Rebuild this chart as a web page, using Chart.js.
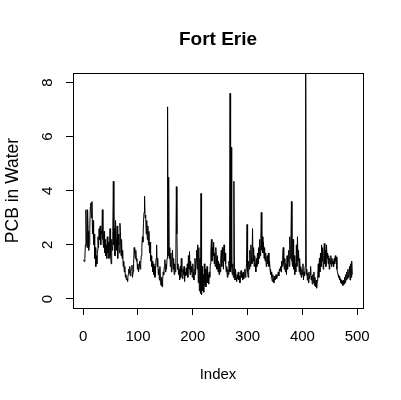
<!DOCTYPE html>
<html><head><meta charset="utf-8">
<script src="https://cdn.jsdelivr.net/npm/chart.js@4/dist/chart.umd.min.js"></script>
<style>html,body{margin:0;padding:0;background:#fff;overflow:hidden}canvas{display:block}</style>
</head><body>
<canvas id="c" width="401" height="400"></canvas>
<script>
const titleText = "Fort Erie";
const xLabel = "Index";
const yLabel = "PCB in Water";
const xTicks = [0, 100, 200, 300, 400, 500];
const yTicks = [0, 2, 4, 6, 8];
const pcb = [
1.45,1.38,1.5,2.0,3.3,2.1,1.9,3.3,2.5,1.8,
2.0,2.6,3.4,3.55,3.0,3.6,2.4,2.9,2.0,2.4,
1.5,1.9,1.2,1.6,1.3,1.8,2.3,1.9,2.6,2.2,
2.7,2.0,2.5,2.4,3.3,2.2,1.9,2.5,1.7,2.2,
1.6,2.0,1.5,2.3,1.7,2.1,1.5,1.9,2.6,1.6,
1.3,2.2,1.8,2.5,4.35,2.0,2.6,1.6,2.9,2.2,
1.8,2.7,1.5,2.4,2.0,1.7,2.8,2.5,1.6,2.2,
1.5,1.8,1.2,1.4,1.0,1.2,0.8,0.9,0.7,0.75,
0.65,0.9,1.1,0.95,1.2,0.85,1.05,1.1,1.25,0.8,
1.0,1.3,1.9,1.7,1.5,1.8,1.4,1.5,1.1,1.3,
1.0,1.2,1.4,1.1,1.3,1.6,1.9,2.3,2.1,2.8,
3.2,3.8,3.0,3.1,2.4,2.9,2.2,2.7,2.0,2.5,
1.7,2.1,1.4,1.6,1.2,1.4,1.0,1.3,0.9,1.2,
0.8,1.1,1.5,2.0,1.2,1.5,0.9,1.1,0.7,1.2,
0.6,0.5,0.8,0.45,0.7,1.0,0.9,1.2,1.45,1.0,
1.3,1.1,1.5,7.1,1.6,4.5,1.5,1.9,1.2,1.7,
1.0,1.4,1.8,1.1,1.5,0.9,1.3,1.0,1.2,4.15,
2.4,1.1,1.3,0.9,1.1,0.7,1.2,0.8,1.5,1.0,
0.75,1.1,0.9,1.2,0.65,1.0,0.85,1.15,0.9,1.3,
0.8,1.6,1.1,1.75,0.9,1.4,1.0,1.2,0.8,1.3,
1.0,0.7,1.1,1.5,0.9,1.4,1.8,1.1,2.0,0.6,
1.9,0.3,1.5,0.2,3.9,0.15,1.2,0.3,0.9,0.25,
1.3,0.5,1.1,0.45,0.8,1.2,0.6,0.9,0.55,1.0,
0.8,1.3,1.8,2.2,1.4,1.9,1.6,2.1,1.3,1.7,
1.2,1.9,1.5,1.1,1.6,1.0,1.4,0.9,1.3,1.0,
1.5,1.8,1.2,1.9,1.6,1.1,2.0,1.4,1.7,1.3,
1.0,1.2,0.8,1.1,0.9,1.4,1.0,7.6,1.0,5.6,
1.2,0.9,1.3,0.8,4.35,1.0,0.7,1.1,0.8,0.65,
0.9,0.75,1.0,0.7,0.85,0.6,0.9,1.05,0.8,0.95,
0.7,1.0,0.75,0.9,1.1,0.8,0.95,1.3,2.75,1.0,
0.8,1.4,1.1,1.8,1.2,2.0,1.5,1.3,2.6,1.4,
1.9,1.2,1.6,1.3,1.0,1.5,1.2,1.7,1.3,1.9,
1.5,2.2,1.6,2.0,3.2,1.8,2.3,1.7,2.1,1.5,
1.9,1.4,1.7,1.2,1.5,1.6,1.3,1.7,1.2,1.4,
1.1,0.9,1.0,0.8,0.65,0.9,0.75,0.6,0.85,0.7,
0.8,0.9,0.75,0.85,0.9,1.0,0.85,1.1,1.05,1.2,
1.0,1.4,1.2,1.6,1.9,1.3,1.1,1.5,1.0,1.3,
0.9,1.6,1.1,1.4,1.8,1.2,2.3,1.5,2.0,3.6,
1.4,1.2,2.2,1.1,1.6,0.9,1.3,1.0,2.0,1.2,
2.3,1.4,1.8,1.0,1.5,0.9,1.2,0.8,1.1,0.9,
1.3,0.7,1.0,0.85,1.2,9.0,0.9,1.1,0.7,0.95,
0.6,1.0,0.75,0.9,1.2,0.7,0.85,0.55,0.9,0.6,
1.0,0.5,0.8,0.45,0.7,0.4,0.65,0.9,1.3,0.8,
1.5,1.0,1.7,1.2,2.0,1.4,1.9,1.1,1.6,2.05,
1.3,1.8,1.2,2.0,1.5,1.7,1.3,1.6,1.1,1.5,
1.3,1.6,1.2,1.5,1.3,1.4,1.2,1.5,1.3,1.6,
1.4,1.55,1.1,1.0,0.9,0.8,0.85,0.7,0.75,0.6,
0.7,0.55,0.65,0.5,0.7,0.55,0.8,0.6,0.9,0.7,
1.0,0.75,1.1,0.8,0.9,1.2,0.7,1.3,0.8,1.4,
0.9
];
const index = pcb.map((_, i) => i + 1);

const FONT = "'Liberation Sans', Arial, Helvetica, sans-serif";

const boxPlugin = {
  id: 'box',
  afterDraw(chart) {
    const {ctx, chartArea: a} = chart;
    const l = Math.round(a.left), t = Math.round(a.top), r = Math.round(a.right), b = Math.round(a.bottom);
    ctx.save();
    ctx.strokeStyle = '#000';
    ctx.lineWidth = 1;
    ctx.strokeRect(l + 0.5, t + 0.5, r - l, b - t);
    ctx.restore();
  }
};

new Chart(document.getElementById('c'), {
  type: 'line',
  data: {
    labels: index,
    datasets: [{
      data: index.map((x, i) => ({x: x, y: pcb[i]})),
      borderColor: '#000',
      borderWidth: 1,
      pointRadius: 0,
      tension: 0,
      fill: false
    }]
  },
  options: {
    responsive: false,
    animation: false,
    devicePixelRatio: 1,
    layout: {padding: {left: 0, right: 38, top: 0, bottom: 0}},
    plugins: {
      legend: {display: false},
      tooltip: {enabled: false},
      title: {
        display: true,
        text: titleText,
        fullSize: false,
        color: '#000',
        font: {family: FONT, size: 19, weight: 'bold'},
        padding: {top: 28.6, bottom: 21.6}
      }
    },
    scales: {
      x: {
        type: 'linear',
        min: -18.6,
        max: 510.6,
        afterBuildTicks: s => { s.ticks = xTicks.map(v => ({value: v})); },
        afterFit: s => { s.height = 92; },
        border: {display: false},
        grid: {display: true, drawOnChartArea: false, drawTicks: true, tickLength: 7, color: '#000', lineWidth: 1},
        ticks: {color: '#000', font: {family: FONT, size: 15}, padding: 13, maxRotation: 0, autoSkip: false},
        title: {display: true, text: xLabel, color: '#000', font: {family: FONT, size: 15}, padding: {top: 0, bottom: 16}}
      },
      y: {
        type: 'linear',
        min: -0.333,
        max: 8.35,
        afterBuildTicks: s => { s.ticks = yTicks.map(v => ({value: v})); },
        afterFit: s => { s.width = 73; },
        border: {display: false},
        grid: {display: true, drawOnChartArea: false, drawTicks: true, tickLength: 7, color: '#000', lineWidth: 1},
        ticks: {color: '#000', font: {family: FONT, size: 15}, padding: 14, minRotation: 90, maxRotation: 90, crossAlign: 'center', autoSkip: false},
        title: {display: true, text: yLabel, color: '#000', font: {family: FONT, size: 17.5}, padding: {top: 3, bottom: 0}}
      }
    }
  },
  plugins: [boxPlugin]
});
</script>
</body></html>
